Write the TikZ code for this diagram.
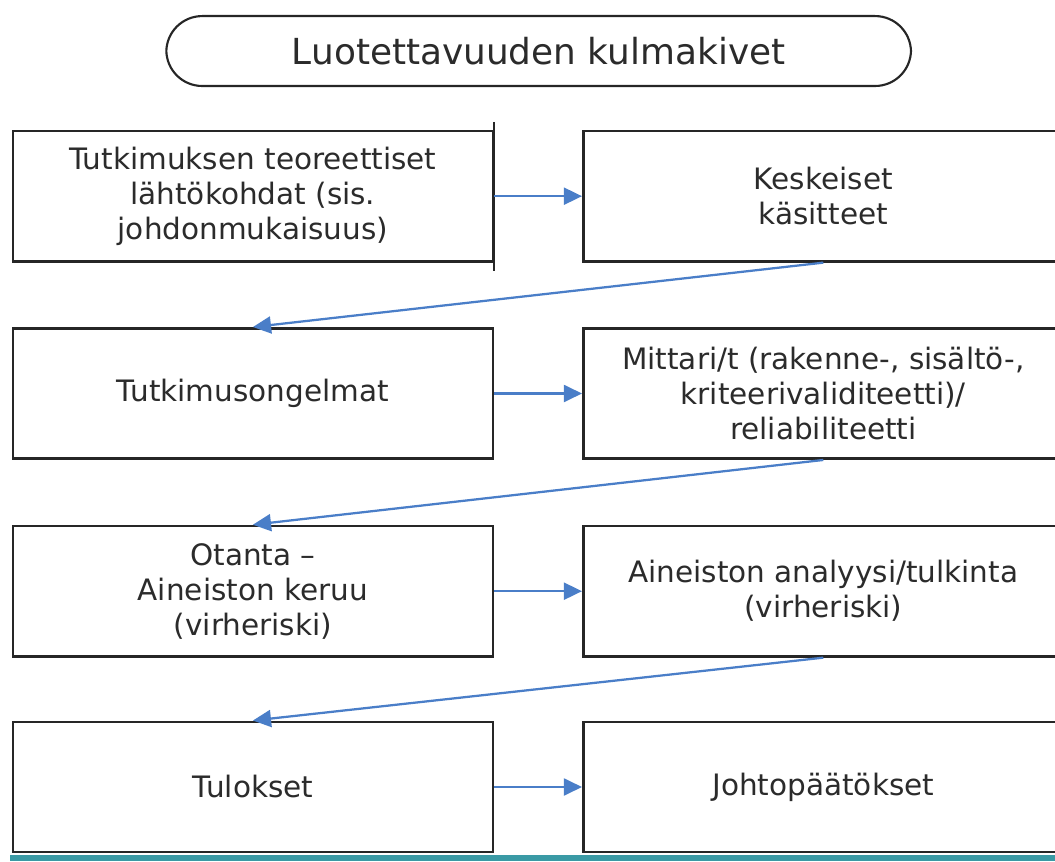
\documentclass[tikz,border=0pt]{standalone}
\usepackage{fontspec}
\setmainfont{DejaVu Sans}
\usepackage{xcolor}
\usepackage{tikz}
\usetikzlibrary{arrows.meta, positioning}

\definecolor{txtgray}{HTML}{2B2B2B}
\definecolor{arrblue}{HTML}{4A7EC8}
\definecolor{barteal}{HTML}{3A9AA5}

\begin{document}
\begin{tikzpicture}[
  title/.style = {draw=black!85, rounded corners=0.95cm, minimum width=19.7cm,
                  minimum height=1.85cm, align=center, text=txtgray,
                  font=\fontsize{27}{32}\selectfont, line width=1.6pt},
  lbox/.style  = {draw=black!85, minimum width=12.7cm, minimum height=3.45cm,
                  align=center, fill=white, text=txtgray,
                  font=\fontsize{22.2}{26.3}\selectfont, line width=1.9pt},
  rbox/.style  = {lbox},
  arr/.style   = {-{Triangle[length=0.48cm, width=0.45cm]}, draw=arrblue,
                  fill=arrblue, line width=1.7pt},
]
\useasboundingbox (0,0) rectangle (27.91,-22.78);

%% Title
\node[title] (title) at (14.25, -1.35) {Luotettavuuden kulmakivet};

%% Row 1
\node[lbox] (teoria) at (6.69, -5.19)
     {Tutkimuksen teoreettiset\\
      lähtökohdat (sis.\\
      johdonmukaisuus)};
\node[rbox] (kasitteet) at (21.78, -5.19)
     {Keskeiset\\
      käsitteet};
\draw[line width=1.9pt, black!85] ([yshift=0.21cm]teoria.north east)
     -- ([yshift=-0.21cm]teoria.south east);
\draw[arr] (teoria.east) -- (kasitteet.west);

%% Row 2
\node[lbox] (ongelmat) at (6.69, -10.41) {Tutkimusongelmat};
\node[rbox] (mittarit) at (21.78, -10.41)
     {Mittari/t (rakenne-, sisältö-,\\
      kriteerivaliditeetti)/\\
      reliabiliteetti};
\draw[arr] (kasitteet.south) -- (ongelmat.north);
\draw[arr] (ongelmat.east) -- (mittarit.west);

%% Row 3
\node[lbox] (otanta) at (6.69, -15.64)
     {Otanta –\\
      Aineiston keruu\\
      (virheriski)};
\node[rbox] (analyysi) at (21.78, -15.64)
     {Aineiston analyysi/tulkinta\\
      (virheriski)};
\draw[arr] (mittarit.south) -- (otanta.north);
\draw[arr] (otanta.east) -- (analyysi.west);

%% Row 4
\node[lbox] (tulokset) at (6.69, -20.82) {Tulokset};
\node[rbox] (johto) at (21.78, -20.82) {Johtopäätökset};
\draw[arr] (analyysi.south) -- (tulokset.north);
\draw[arr] (tulokset.east) -- (johto.west);

%% Bottom bar
\fill[barteal] (0.26, -22.62) rectangle (27.91, -22.78);

\end{tikzpicture}
\end{document}
